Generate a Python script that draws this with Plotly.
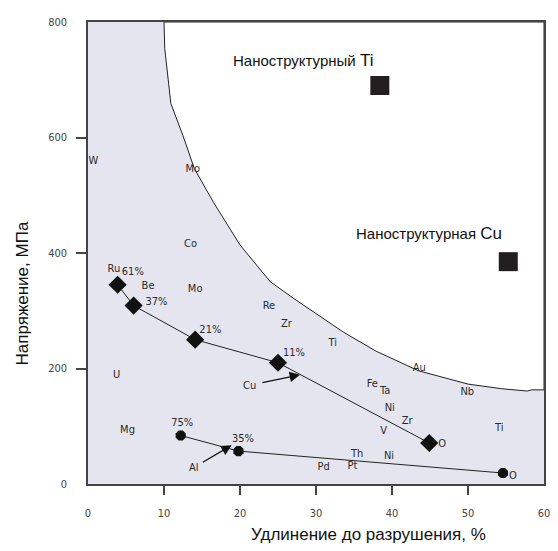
import plotly.graph_objects as go

# Boundary curve (strength-ductility limit)
curve_x = [10.0, 10.1, 10.9, 12.5, 14.0, 16.5, 20.0, 24.0, 27.1, 30.1, 33.6, 37.9, 43.5, 50.0, 54.4, 57.8, 58.4, 60.0]
curve_y = [800, 754, 659, 603, 546, 488, 414, 350, 321, 294, 263, 230, 196, 173, 165, 161, 163, 163]

# Cu series (diamonds)
cu_x = [3.9, 6.0, 14.1, 25.0, 44.9]
cu_y = [345, 309, 250, 210, 71]

# Al series
al_x = [12.2, 19.8, 54.6]
al_y = [84, 57, 19]

# Nanostructured metals
nano_x = [38.4, 55.3]
nano_y = [690, 385]

# Element / percentage labels
lab_text = ["W", "Mo", "Co", "Mo", "Ru", "61%", "Be", "37%", "21%", "Re", "Zr", "Ti", "11%",
            "Fe", "Ta", "Au", "Nb", "Ni", "Zr", "V", "Ti", "O", "Ni", "O", "Th", "Pt", "Pd",
            "35%", "75%", "Mg", "U"]
lab_x = [0.7, 13.8, 13.5, 14.1, 3.4, 5.9, 7.9, 9.0, 16.1, 23.8, 26.1, 32.2, 27.1,
         37.4, 39.1, 43.6, 49.9, 39.7, 42.0, 38.9, 54.1, 46.6, 39.6, 55.9, 35.4, 34.8, 31.0,
         20.4, 12.4, 5.2, 3.75]
lab_y = [559, 545, 416, 338, 372, 366, 343, 314, 267, 307, 276, 243, 226,
         172, 160, 200, 159, 131, 109, 91, 97, 69, 48, 14, 52, 31, 29,
         78, 105, 93, 188]

x_ticks = [0, 10, 20, 30, 40, 50, 60]
y_ticks = [0, 200, 400, 600, 800]

fig = go.Figure()

# white region above the limit curve
fig.add_trace(go.Scatter(
    x=curve_x + [60, 10], y=curve_y + [800, 800],
    mode="lines", fill="toself", fillcolor="white",
    line=dict(color="#222222", width=1), hoverinfo="skip", showlegend=False))

fig.add_trace(go.Scatter(
    x=cu_x, y=cu_y, mode="lines+markers",
    line=dict(color="#222222", width=1),
    marker=dict(symbol="diamond", size=14, color="#111111"),
    showlegend=False))

fig.add_trace(go.Scatter(
    x=al_x, y=al_y, mode="lines+markers",
    line=dict(color="#222222", width=1),
    marker=dict(symbol="octagon", size=11, color="#111111"),
    showlegend=False))

fig.add_trace(go.Scatter(
    x=nano_x, y=nano_y, mode="markers",
    marker=dict(symbol="square", size=19, color="#231f20"),
    showlegend=False))

lab_font_small = dict(family="Liberation Sans Narrow, DejaVu Sans Condensed, Liberation Sans, sans-serif",
                      size=11, color="#2a2a2a")

fig.add_trace(go.Scatter(
    x=lab_x, y=lab_y, mode="text", text=lab_text,
    textfont=lab_font_small, showlegend=False))

label_font = dict(family="Liberation Sans, Arial, sans-serif", size=15, color="#111111")
fig.add_annotation(x=28.3, y=733, text="Наноструктурный <span style='font-size:17px'>Ti</span>",
                   showarrow=False, font=label_font, xanchor="center", yanchor="middle")
fig.add_annotation(x=44.9, y=433, text="Наноструктурная <span style='font-size:17px'>Cu</span>",
                   showarrow=False, font=label_font, xanchor="center", yanchor="middle")

fig.add_annotation(x=27.9, y=189, ax=21.2, ay=171, axref="x", ayref="y",
                   text="", showarrow=True, arrowhead=2, arrowsize=1.6, arrowwidth=1.3,
                   arrowcolor="#111111", standoff=0, startstandoff=12)
fig.add_annotation(x=21.2, y=171, text="Cu", showarrow=False, font=lab_font_small)
fig.add_annotation(x=18.9, y=67, ax=14.0, ay=29, axref="x", ayref="y",
                   text="", showarrow=True, arrowhead=2, arrowsize=1.6, arrowwidth=1.3,
                   arrowcolor="#111111", standoff=0, startstandoff=8)
fig.add_annotation(x=14.0, y=29, text="Al", showarrow=False, font=lab_font_small)

# page body has an 8px margin, so figure coordinates = window coordinates - 8
title_font = dict(family="Liberation Sans, Arial, sans-serif", size=17, color="#111111")
fig.add_annotation(xref="paper", yref="paper", x=(372 - 88) / 462, y=(484 - 535) / 466,
                   xanchor="center", yanchor="middle",
                   text="Удлинение до разрушения, %", showarrow=False, font=title_font)
fig.add_annotation(xref="paper", yref="paper", x=(22 - 88) / 462, y=(484 - 292) / 466,
                   xanchor="center", yanchor="middle",
                   text="Напряжение, МПа", showarrow=False, textangle=-90, font=title_font)

tick_font = dict(family="Liberation Sans Narrow, DejaVu Sans Condensed, Liberation Sans, sans-serif",
                 size=11, color="#444444")

fig.update_layout(
    width=550, height=543,
    margin=dict(l=80, r=8, t=10, b=67),
    paper_bgcolor="white", plot_bgcolor="#e5e5ef",
    xaxis=dict(range=[0, 60], tickvals=x_ticks, ticks="", showgrid=False, zeroline=False,
               showline=True, mirror=True, linecolor="#444444", linewidth=1.5,
               tickfont=tick_font, ticklabelstandoff=18,
               minor=dict(tickvals=[10, 20, 30, 40, 50], ticks="outside", ticklen=9,
                          tickwidth=1.5, tickcolor="#444444", showgrid=False)),
    yaxis=dict(range=[0, 800], tickvals=y_ticks, ticks="", showgrid=False, zeroline=False,
               showline=True, mirror=True, linecolor="#444444", linewidth=1.5,
               tickfont=tick_font, ticklabelstandoff=17,
               minor=dict(tickvals=[200, 400, 600], ticks="outside", ticklen=10,
                          tickwidth=1.5, tickcolor="#444444", showgrid=False)),
)

fig.write_html("out.html")
